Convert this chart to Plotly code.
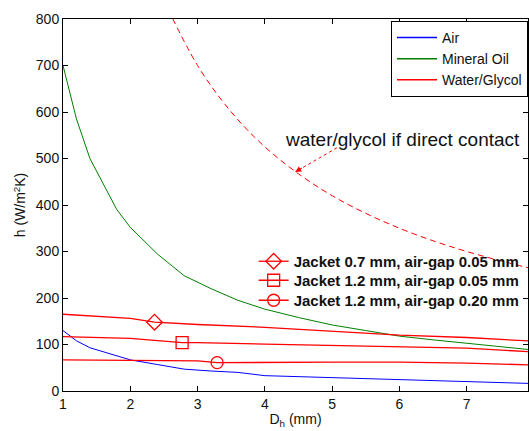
import plotly.graph_objects as go

# ---- data ----
D = [1.0, 1.2, 1.4, 1.6, 1.8, 2.0, 2.4, 2.8, 3.2, 3.6, 4.0, 4.5, 5.0, 5.5, 6.0, 6.5, 7.0, 7.5, 8.0]
h_air = [130, 108, 93, 84, 75, 67, 57, 47, 43, 40, 33, 31, 28, 26, 24, 22, 21, 18, 16]
h_oil = [700, 585, 500, 445, 390, 352, 295, 248, 220, 195, 176, 158, 142, 130, 118, 110, 103, 96, 88]

D_j1 = [1, 2, 2.36, 3, 4, 5, 6, 7, 8]
h_j1 = [165, 156, 148, 143, 137, 128, 120, 115, 107]
D_j2 = [1, 2, 2.77, 3, 4, 5, 6, 7, 8]
h_j2 = [117, 113, 104, 104, 101, 98, 95, 92, 84]
D_j3 = [1, 2, 3, 3.29, 4, 5, 6, 7, 8]
h_j3 = [67, 66, 65, 61, 62, 62, 62, 60, 56]

D_direct = [2.5, 3.0, 3.5, 4.0, 4.5, 5.0, 5.5, 6.0, 6.5, 7.0, 7.5, 8.0]
h_direct = [840, 700, 600, 525, 467, 420, 382, 350, 323, 300, 280, 262]

marker_D = [2.36, 2.77, 3.29]
marker_h = [148, 104, 61]
marker_symbols = ["diamond-open", "square-open", "circle-open"]
jacket_labels = ["Jacket 0.7 mm, air-gap 0.05 mm",
                 "Jacket 1.2 mm, air-gap 0.05 mm",
                 "Jacket 1.2 mm, air-gap 0.20 mm"]
main_labels = ["Air", "Mineral Oil", "Water/Glycol"]
x_ticks = [1, 2, 3, 4, 5, 6, 7, 8]
y_ticks = [0, 100, 200, 300, 400, 500, 600, 700, 800]

FONT = "Arial, Liberation Sans, sans-serif"
BLUE = "#0000ff"
GREEN = "#008000"
RED = "#ff0000"
TXT = "#111111"

fig = go.Figure()

# curves
fig.add_trace(go.Scatter(x=D, y=h_air, mode="lines", line=dict(color=BLUE, width=1), showlegend=False))
fig.add_trace(go.Scatter(x=D, y=h_oil, mode="lines", line=dict(color=GREEN, width=1), showlegend=False))
for dx, hy in [(D_j1, h_j1), (D_j2, h_j2), (D_j3, h_j3)]:
    fig.add_trace(go.Scatter(x=dx, y=hy, mode="lines", line=dict(color=RED, width=1.3), showlegend=False))
fig.add_trace(go.Scatter(x=D_direct, y=h_direct, mode="lines",
                         line=dict(color=RED, width=1, dash="6px,4px", shape="spline", smoothing=1),
                         showlegend=False))

# single markers on the jacket lines
for mx, my, sym in zip(marker_D, marker_h, marker_symbols):
    fig.add_trace(go.Scatter(x=[mx], y=[my], mode="markers",
                             marker=dict(symbol=sym, size=12, color=RED, line=dict(width=1.3, color=RED)),
                             showlegend=False))

# legend 1 entries
for name, col in zip(main_labels, [BLUE, GREEN, RED]):
    fig.add_trace(go.Scatter(x=[None], y=[None], mode="lines", name=name,
                             line=dict(color=col, width=1.5), legend="legend"))

# jacket legend entries (one small legend each, for tighter row spacing)
jacket_legends = ["legend2", "legend3", "legend4"]
for name, sym, lg in zip(jacket_labels, marker_symbols, jacket_legends):
    fig.add_trace(go.Scatter(x=[None], y=[None], mode="lines+markers", name=name,
                             line=dict(color=RED, width=1.3),
                             marker=dict(symbol=sym, size=12, color=RED, line=dict(width=1.3, color=RED)),
                             legend=lg))

# annotation with dotted arrow
tip = (4.45, 471)
tail = (5.07, 523)
fig.add_shape(type="line", x0=tail[0], y0=tail[1], x1=tip[0], y1=tip[1],
              line=dict(color=RED, width=1, dash="dot"))
fig.add_annotation(x=tip[0], y=tip[1], ax=tip[0] + (tail[0] - tip[0]) * 0.2,
                   ay=tip[1] + (tail[1] - tip[1]) * 0.2, axref="x", ayref="y",
                   xref="x", yref="y", text="", showarrow=True, arrowhead=2,
                   arrowsize=1.2, arrowwidth=1, arrowcolor=RED)
fig.add_annotation(x=6.05, y=540, xref="x", yref="y", text="water/glycol if direct contact",
                   showarrow=False, font=dict(family=FONT, size=19, color=TXT))

axis_common = dict(showline=True, linecolor="black", linewidth=1, mirror="ticks",
                   ticks="inside", ticklen=5, tickcolor="black", showgrid=False, zeroline=False,
                   tickfont=dict(family=FONT, size=14, color=TXT))

jacket_legend_style = dict(x=0.41, xanchor="left", yanchor="top", bgcolor="rgba(0,0,0,0)",
                           borderwidth=0, tracegroupgap=0,
                           font=dict(family=FONT, size=15, color=TXT, weight="bold"))

fig.update_layout(
    width=529, height=431,
    margin=dict(l=63, r=1, t=19, b=40, autoexpand=False),
    paper_bgcolor="white", plot_bgcolor="white",
    xaxis=dict(range=[1, 7.91], tickvals=x_ticks,
               title=dict(text="D<sub>h</sub> (mm)", font=dict(family=FONT, size=14, color=TXT),
                          standoff=3),
               **axis_common),
    yaxis=dict(range=[0, 800], tickvals=y_ticks,
               title=dict(text="h (W/m<sup>2</sup>K)", font=dict(family=FONT, size=14, color=TXT),
                          standoff=6),
               **axis_common),
    legend=dict(x=1, xanchor="right", y=0.995, yanchor="top", bgcolor="white",
                bordercolor="black", borderwidth=1, itemwidth=40,
                font=dict(family=FONT, size=14, color=TXT), tracegroupgap=0),
    legend2=dict(y=0.3925, **jacket_legend_style),
    legend3=dict(y=0.3414, **jacket_legend_style),
    legend4=dict(y=0.2876, **jacket_legend_style),
    showlegend=True,
)

fig.write_html("out.html")
